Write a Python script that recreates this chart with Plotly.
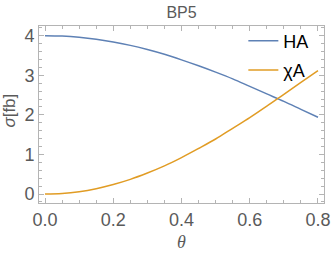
import plotly.graph_objects as go

theta = [0.0, 0.05, 0.1, 0.15, 0.2, 0.25, 0.3, 0.35, 0.4, 0.45, 0.5, 0.55, 0.6, 0.65, 0.7, 0.75, 0.8]
sigma_HA = [4.0, 3.99, 3.96, 3.91, 3.84, 3.755, 3.65, 3.53, 3.39, 3.24, 3.08, 2.91, 2.72, 2.53, 2.34, 2.14, 1.94]
sigma_chiA = [0.0, 0.015, 0.06, 0.135, 0.24, 0.37, 0.53, 0.71, 0.92, 1.15, 1.39, 1.66, 1.93, 2.22, 2.52, 2.82, 3.12]

x_ticks = [0.0, 0.2, 0.4, 0.6, 0.8]
x_ticklabels = ["0.0", "0.2", "0.4", "0.6", "0.8"]
y_ticks = [0, 1, 2, 3, 4]

fig = go.Figure()
fig.add_trace(go.Scatter(x=theta, y=sigma_HA, mode="lines", name="HA", legendgroup="a",
                         line=dict(color="#5E81B5", width=1.5, shape="spline")))
fig.add_trace(go.Scatter(x=theta, y=sigma_chiA, mode="lines", name="χA", legendgroup="b",
                         line=dict(color="#E19C24", width=1.5, shape="spline")))

axis_common = dict(
    showgrid=False, zeroline=False, showline=True, mirror="ticks",
    linecolor="#b4b4b4", linewidth=1, ticks="inside", ticklen=5,
    tickcolor="#b4b4b4", tickfont=dict(family="Liberation Sans, Arial", size=18, color="#5a5a5a"),
    ticklabeloverflow="allow", automargin=False,
)

fig.update_xaxes(range=[-0.0176, 0.8176], tickvals=x_ticks, ticktext=x_ticklabels,
                 minor=dict(dtick=0.05, ticks="inside", ticklen=3, tickcolor="#b4b4b4"),
                 **axis_common)
fig.update_yaxes(range=[-0.227, 4.245], tickvals=y_ticks,
                 minor=dict(dtick=0.2, ticks="inside", ticklen=3, tickcolor="#b4b4b4"),
                 **axis_common)

fig.add_annotation(text="<i>θ</i>", xref="paper", yref="paper", x=0.5, y=-0.22,
                   xanchor="center", yanchor="middle", showarrow=False,
                   font=dict(family="Liberation Serif, Times New Roman", size=18, color="#5a5a5a"))
fig.add_annotation(text="<i>σ</i>[fb]", xref="paper", yref="paper", x=-0.103, y=0.52,
                   xanchor="center", yanchor="middle", showarrow=False, textangle=-90,
                   font=dict(family="Liberation Sans, Arial", size=17, color="#5a5a5a"))

fig.update_layout(
    width=332, height=254,
    margin=dict(l=39, r=8, t=26, b=51),
    paper_bgcolor="white", plot_bgcolor="white",
    title=dict(text="BP5", x=0.5, xref="paper", xanchor="center", y=0.953, yanchor="middle",
               font=dict(family="Liberation Sans, Arial", size=16, color="#5a5a5a")),
    legend=dict(x=0.717, y=1.02, xanchor="left", yanchor="top", bgcolor="rgba(0,0,0,0)",
                font=dict(family="Liberation Sans, Arial", size=18, color="#000000"),
                itemwidth=30, traceorder="grouped", tracegroupgap=3),
    showlegend=True,
)

fig.write_html("out.html", config={"displayModeBar": False},
               post_script="document.body.style.margin='0';")
